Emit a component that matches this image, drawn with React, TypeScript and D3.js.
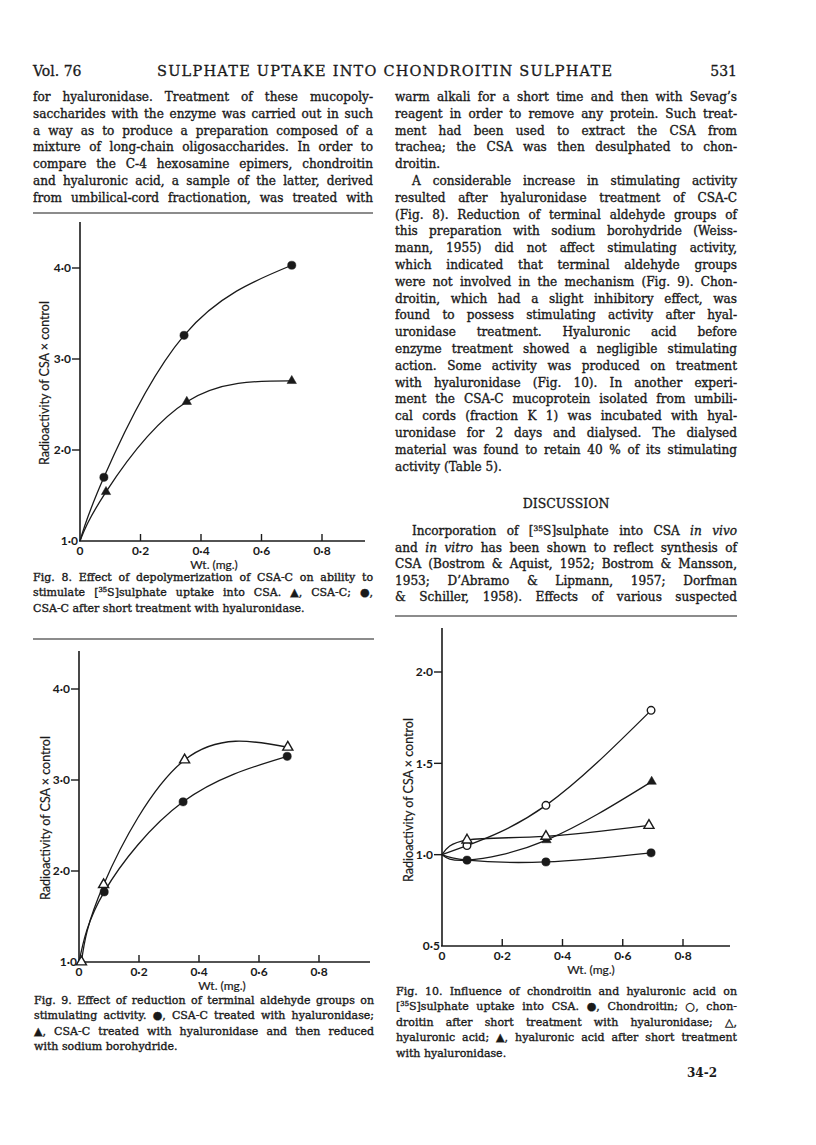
import React from "react";
import * as d3 from "d3";

// ---- Fig. 8 : depolymerization of CSA-C ----
const fig8CircleX = [0, 0.079, 0.344, 0.7];
const fig8CircleY = [1.0, 1.7, 3.26, 4.03];
const fig8TriangleX = [0, 0.086, 0.353, 0.7];
const fig8TriangleY = [1.0, 1.54, 2.53, 2.76];

// ---- Fig. 9 : reduction of terminal aldehyde groups ----
const fig9OpenTriX = [0.008, 0.082, 0.352, 0.696];
const fig9OpenTriY = [1.0, 1.85, 3.22, 3.36];
const fig9CircleX = [0, 0.084, 0.347, 0.694];
const fig9CircleY = [1.0, 1.77, 2.76, 3.26];

// ---- Fig. 10 : chondroitin and hyaluronic acid ----
const fig10X = [0, 0.083, 0.345, 0.694];
const fig10Chondroitin = [1.0, 0.97, 0.96, 1.01];
const fig10ChondroitinHyal = [1.0, 1.05, 1.27, 1.79];
const fig10HyalX = [0, 0.083, 0.345, 0.687];
const fig10Hyaluronic = [1.0, 1.08, 1.1, 1.16];
const fig10HyalTreatedX = [0, 0.083, 0.347, 0.696];
const fig10HyaluronicHyal = [1.0, 0.97, 1.08, 1.4];

const xTicks = [0, 0.2, 0.4, 0.6, 0.8];
const yTicks8 = [1, 2, 3, 4];
const yTicks9 = [1, 2, 3, 4];
const yTicks10 = [0.5, 1.0, 1.5, 2.0];

const yTitle = "Radioactivity of CSA × control";
const xTitle = "Wt. (mg.)";

// ---- page text ----
const header = ["Vol. 76", "SULPHATE UPTAKE INTO CHONDROITIN SULPHATE", "531"];

const leftCol = [
  "for hyaluronidase. Treatment of these mucopoly-",
  "saccharides with the enzyme was carried out in such",
  "a way as to produce a preparation composed of a",
  "mixture of long-chain oligosaccharides. In order to",
  "compare the C-4 hexosamine epimers, chondroitin",
  "and hyaluronic acid, a sample of the latter, derived",
  "from umbilical-cord fractionation, was treated with",
];

const rightCol = [
  "warm alkali for a short time and then with Sevag’s",
  "reagent in order to remove any protein. Such treat-",
  "ment had been used to extract the CSA from",
  "trachea; the CSA was then desulphated to chon-",
  "droitin.",
  "A considerable increase in stimulating activity",
  "resulted after hyaluronidase treatment of CSA-C",
  "(Fig. 8). Reduction of terminal aldehyde groups of",
  "this preparation with sodium borohydride (Weiss-",
  "mann, 1955) did not affect stimulating activity,",
  "which indicated that terminal aldehyde groups",
  "were not involved in the mechanism (Fig. 9). Chon-",
  "droitin, which had a slight inhibitory effect, was",
  "found to possess stimulating activity after hyal-",
  "uronidase treatment. Hyaluronic acid before",
  "enzyme treatment showed a negligible stimulating",
  "action. Some activity was produced on treatment",
  "with hyaluronidase (Fig. 10). In another experi-",
  "ment the CSA-C mucoprotein isolated from umbili-",
  "cal cords (fraction K 1) was incubated with hyal-",
  "uronidase for 2 days and dialysed. The dialysed",
  "material was found to retain 40 % of its stimulating",
  "activity (Table 5).",
];
const rightRagged = [4, 22];
const rightIndent = [5];

const discussionTitle = "DISCUSSION";
const discussion = [
  "Incorporation of [^35^S]sulphate into CSA _in vivo_",
  "and _in vitro_ has been shown to reflect synthesis of",
  "CSA (Bostrom & Aquist, 1952; Bostrom & Mansson,",
  "1953; D’Abramo & Lipmann, 1957; Dorfman",
  "& Schiller, 1958). Effects of various suspected",
];

const caption8 = [
  "Fig. 8. Effect of depolymerization of CSA-C on ability to",
  "stimulate [^35^S]sulphate uptake into CSA. ▲, CSA-C; ●,",
  "CSA-C after short treatment with hyaluronidase.",
];
const caption9 = [
  "Fig. 9. Effect of reduction of terminal aldehyde groups on",
  "stimulating activity. ●, CSA-C treated with hyaluronidase;",
  "▲, CSA-C treated with hyaluronidase and then reduced",
  "with sodium borohydride.",
];
const caption10 = [
  "Fig. 10. Influence of chondroitin and hyaluronic acid on",
  "[^35^S]sulphate uptake into CSA. ●, Chondroitin; ○, chon-",
  "droitin after short treatment with hyaluronidase; △,",
  "hyaluronic acid; ▲, hyaluronic acid after short treatment",
  "with hyaluronidase.",
];
const folio = "34-2";

const INK = "#1a1a1a";
const SERIF = "'DejaVu Serif', serif";
const SANS = "Lato, 'Open Sans', sans-serif";

// measure text with canvas so justified lines get word spacing, not letter spacing
let measureCtx: CanvasRenderingContext2D | null = null;
function measure(text: string, size: number, italic = false) {
  if (!measureCtx) measureCtx = document.createElement("canvas").getContext("2d");
  if (!measureCtx) return text.length * size * 0.55;
  measureCtx.font = `${italic ? "italic " : ""}${size}px 'DejaVu Serif'`;
  return measureCtx.measureText(text).width;
}

// text with ^sup^ and _italic_ markup, justified when width is given
function Rich({ x, y, text, width, size }: { x: number; y: number; text: string; width?: number; size: number }) {
  const parts = text.split(/(\^[^^]+\^|_[^_]+_)/).filter(Boolean);
  let spacing = 0;
  if (width) {
    let natural = 0;
    parts.forEach((p) => {
      if (p.startsWith("^")) natural += measure(p.slice(1, -1), size * 0.62);
      else if (p.startsWith("_")) natural += measure(p.slice(1, -1), size, true);
      else natural += measure(p, size);
    });
    const gaps = (text.match(/ /g) || []).length;
    if (gaps > 0) spacing = (width - natural) / gaps;
  }
  let raised = false;
  return (
    <text
      x={x}
      y={y}
      fontSize={size}
      fontFamily={SERIF}
      fill={INK}
      stroke={INK}
      strokeWidth={0.35}
      style={{ wordSpacing: spacing }}
    >
      {parts.map((p, i) => {
        if (p.startsWith("^")) {
          raised = true;
          return (
            <tspan key={i} fontSize={size * 0.62} dy={-4}>
              {p.slice(1, -1)}
            </tspan>
          );
        }
        const dy = raised ? 4 : undefined;
        raised = false;
        if (p.startsWith("_"))
          return (
            <tspan key={i} dy={dy} fontStyle="italic">
              {p.slice(1, -1)}
            </tspan>
          );
        return (
          <tspan key={i} dy={dy}>
            {p}
          </tspan>
        );
      })}
    </text>
  );
}

type Series = { xs: number[]; ys: number[]; shape: "circle" | "triangle"; filled: boolean; marks: number[] };

type ChartProps = {
  left: number;
  right: number;
  top: number;
  bottom: number;
  x08: number;
  yTopTick: number;
  yTicks: number[];
  series: Series[];
  titleX: number;
  titleY: number;
  wtX: number;
};

const fmt = (v: number) => (v === 0 ? "0" : d3.format(".1f")(v).replace(".", "·"));

function Chart(p: ChartProps) {
  const x = d3.scaleLinear().domain([0, 0.8]).range([p.left, p.x08]);
  const y = d3
    .scaleLinear()
    .domain([p.yTicks[0], p.yTicks[p.yTicks.length - 1]])
    .range([p.bottom, p.yTopTick]);
  const line = d3
    .line<[number, number]>()
    .x((d) => x(d[0]))
    .y((d) => y(d[1]))
    .curve(d3.curveNatural);
  const tri = d3.symbol().type(d3.symbolTriangle).size(38);
  const openTri = d3.symbol().type(d3.symbolTriangle).size(44);

  return (
    <g>
      {/* axes */}
      <line x1={p.left} x2={p.left} y1={p.top} y2={p.bottom} stroke={INK} strokeWidth={1.6} />
      <line x1={p.left - 1} x2={p.right} y1={p.bottom} y2={p.bottom} stroke={INK} strokeWidth={1.6} />
      {p.yTicks.map((t, i) => (
        <g key={t}>
          {i > 0 && <line x1={p.left - 8} x2={p.left} y1={y(t)} y2={y(t)} stroke={INK} strokeWidth={1.4} />}
          <text
            x={i > 0 ? p.left - 9 : p.left - 2}
            y={y(t) + 4.3}
            textAnchor="end"
            fontFamily={SANS}
            fontSize={12}
            fontWeight={700}
            fill={INK}
          >
            {fmt(t)}
          </text>
        </g>
      ))}
      {xTicks.map((t, i) => (
        <g key={t}>
          {i > 0 && <line x1={x(t)} x2={x(t)} y1={p.bottom - 7} y2={p.bottom} stroke={INK} strokeWidth={1.4} />}
          <text
            x={x(t)}
            y={p.bottom + 14}
            textAnchor="middle"
            fontFamily={SANS}
            fontSize={12}
            fontWeight={700}
            fill={INK}
          >
            {fmt(t)}
          </text>
        </g>
      ))}
      <text
        transform={`translate(${p.titleX},${p.titleY}) rotate(-90)`}
        textAnchor="middle"
        fontFamily={SANS}
        fontSize={12.5}
        fill={INK}
        stroke={INK}
        strokeWidth={0.2}
      >
        {yTitle}
      </text>
      <text
        x={p.wtX}
        y={p.bottom + 27.5}
        textAnchor="middle"
        fontFamily={SANS}
        fontSize={12}
        fill={INK}
        stroke={INK}
        strokeWidth={0.2}
      >
        {xTitle}
      </text>

      {/* curves */}
      {p.series.map((s, k) => (
        <path
          key={k}
          d={line(s.xs.map((v, i) => [v, s.ys[i]] as [number, number])) || ""}
          fill="none"
          stroke={INK}
          strokeWidth={1.3}
        />
      ))}
      {/* markers */}
      {p.series.map((s, k) =>
        s.marks.map((i) => {
          const cx = x(s.xs[i]);
          const cy = y(s.ys[i]);
          if (s.shape === "circle")
            return (
              <circle
                key={`${k}-${i}`}
                cx={cx}
                cy={cy}
                r={s.filled ? 4.1 : 3.8}
                fill={s.filled ? INK : "#fff"}
                stroke={INK}
                strokeWidth={s.filled ? 0.5 : 1.4}
              />
            );
          return (
            <path
              key={`${k}-${i}`}
              transform={`translate(${cx},${cy})`}
              d={(s.filled ? tri() : openTri()) || ""}
              fill={s.filled ? INK : "#fff"}
              stroke={INK}
              strokeWidth={s.filled ? 0.5 : 1.4}
            />
          );
        })
      )}
    </g>
  );
}

function Block({ lines, x, y0, step, width, size, ragged = [], indent = [] }: any) {
  return (
    <g>
      {lines.map((t: string, i: number) => {
        const ind = indent.includes(i) ? 17 : 0;
        return (
          <Rich
            key={i}
            x={x + ind}
            y={y0 + i * step}
            text={t}
            size={size}
            width={ragged.includes(i) ? undefined : width - ind}
          />
        );
      })}
    </g>
  );
}

export default function App() {
  const fig8: Series[] = [
    { xs: fig8CircleX, ys: fig8CircleY, shape: "circle", filled: true, marks: [1, 2, 3] },
    { xs: fig8TriangleX, ys: fig8TriangleY, shape: "triangle", filled: true, marks: [1, 2, 3] },
  ];
  const fig9: Series[] = [
    { xs: fig9OpenTriX, ys: fig9OpenTriY, shape: "triangle", filled: false, marks: [0, 1, 2, 3] },
    { xs: fig9CircleX, ys: fig9CircleY, shape: "circle", filled: true, marks: [1, 2, 3] },
  ];
  const fig10: Series[] = [
    { xs: fig10X, ys: fig10ChondroitinHyal, shape: "circle", filled: false, marks: [1, 2, 3] },
    { xs: fig10HyalTreatedX, ys: fig10HyaluronicHyal, shape: "triangle", filled: true, marks: [2, 3] },
    { xs: fig10HyalX, ys: fig10Hyaluronic, shape: "triangle", filled: false, marks: [1, 2, 3] },
    { xs: fig10X, ys: fig10Chondroitin, shape: "circle", filled: true, marks: [1, 2, 3] },
  ];

  return (
    <svg
      width={816}
      height={1145}
      viewBox="0 0 816 1145"
      style={{ position: "absolute", left: 0, top: 0, background: "#fff" }}
    >
      <rect width={816} height={1145} fill="#fff" />

      {/* running head */}
      <text x={33} y={76} fontFamily={SERIF} fontSize={14} fill={INK} stroke={INK} strokeWidth={0.3}>
        {header[0]}
      </text>
      <text
        x={157}
        y={76}
        fontFamily={SERIF}
        fontSize={14.5}
        fill={INK}
        stroke={INK}
        strokeWidth={0.3}
        textLength={455}
        lengthAdjust="spacing"
      >
        {header[1]}
      </text>
      <text x={737} y={76} textAnchor="end" fontFamily={SERIF} fontSize={14} fill={INK} stroke={INK} strokeWidth={0.3}>
        {header[2]}
      </text>

      {/* body text */}
      <Block lines={leftCol} x={33} y0={101} step={16.8} width={340} size={12.1} />
      <Block
        lines={rightCol}
        x={395}
        y0={101}
        step={16.8}
        width={342}
        size={12.1}
        ragged={rightRagged}
        indent={rightIndent}
      />
      <text x={566} y={508} textAnchor="middle" fontFamily={SERIF} fontSize={12.5} fill={INK} stroke={INK} strokeWidth={0.3}>
        {discussionTitle}
      </text>
      <Block lines={discussion} x={395} y0={535} step={16.6} width={342} size={12.1} indent={[0]} />

      {/* rules */}
      <line x1={33} x2={373} y1={213} y2={213} stroke={INK} strokeWidth={1.2} />
      <line x1={33} x2={374} y1={639} y2={639} stroke={INK} strokeWidth={1.2} />
      <line x1={395} x2={737} y1={616} y2={616} stroke={INK} strokeWidth={1.2} />

      {/* figures */}
      <Chart
        left={80}
        right={365}
        top={222}
        bottom={541}
        x08={322}
        yTopTick={268}
        yTicks={yTicks8}
        series={fig8}
        titleX={49}
        titleY={383}
        wtX={214}
      />
      <Chart
        left={79}
        right={370}
        top={651}
        bottom={962}
        x08={319}
        yTopTick={689}
        yTicks={yTicks9}
        series={fig9}
        titleX={50}
        titleY={818}
        wtX={222}
      />
      <Chart
        left={442}
        right={730}
        top={628}
        bottom={946}
        x08={683}
        yTopTick={672}
        yTicks={yTicks10}
        series={fig10}
        titleX={413}
        titleY={800}
        wtX={591}
      />

      {/* captions */}
      <Block lines={caption8} x={33} y0={581} step={15.4} width={340} size={11} ragged={[2]} />
      <Block lines={caption9} x={34} y0={1004} step={15.4} width={340} size={11} ragged={[3]} />
      <Block lines={caption10} x={396} y0={995} step={15.4} width={341} size={11} ragged={[4]} />

      <text x={687} y={1077} fontFamily={SERIF} fontSize={12} fontWeight={700} fill={INK}>
        {folio}
      </text>
    </svg>
  );
}
